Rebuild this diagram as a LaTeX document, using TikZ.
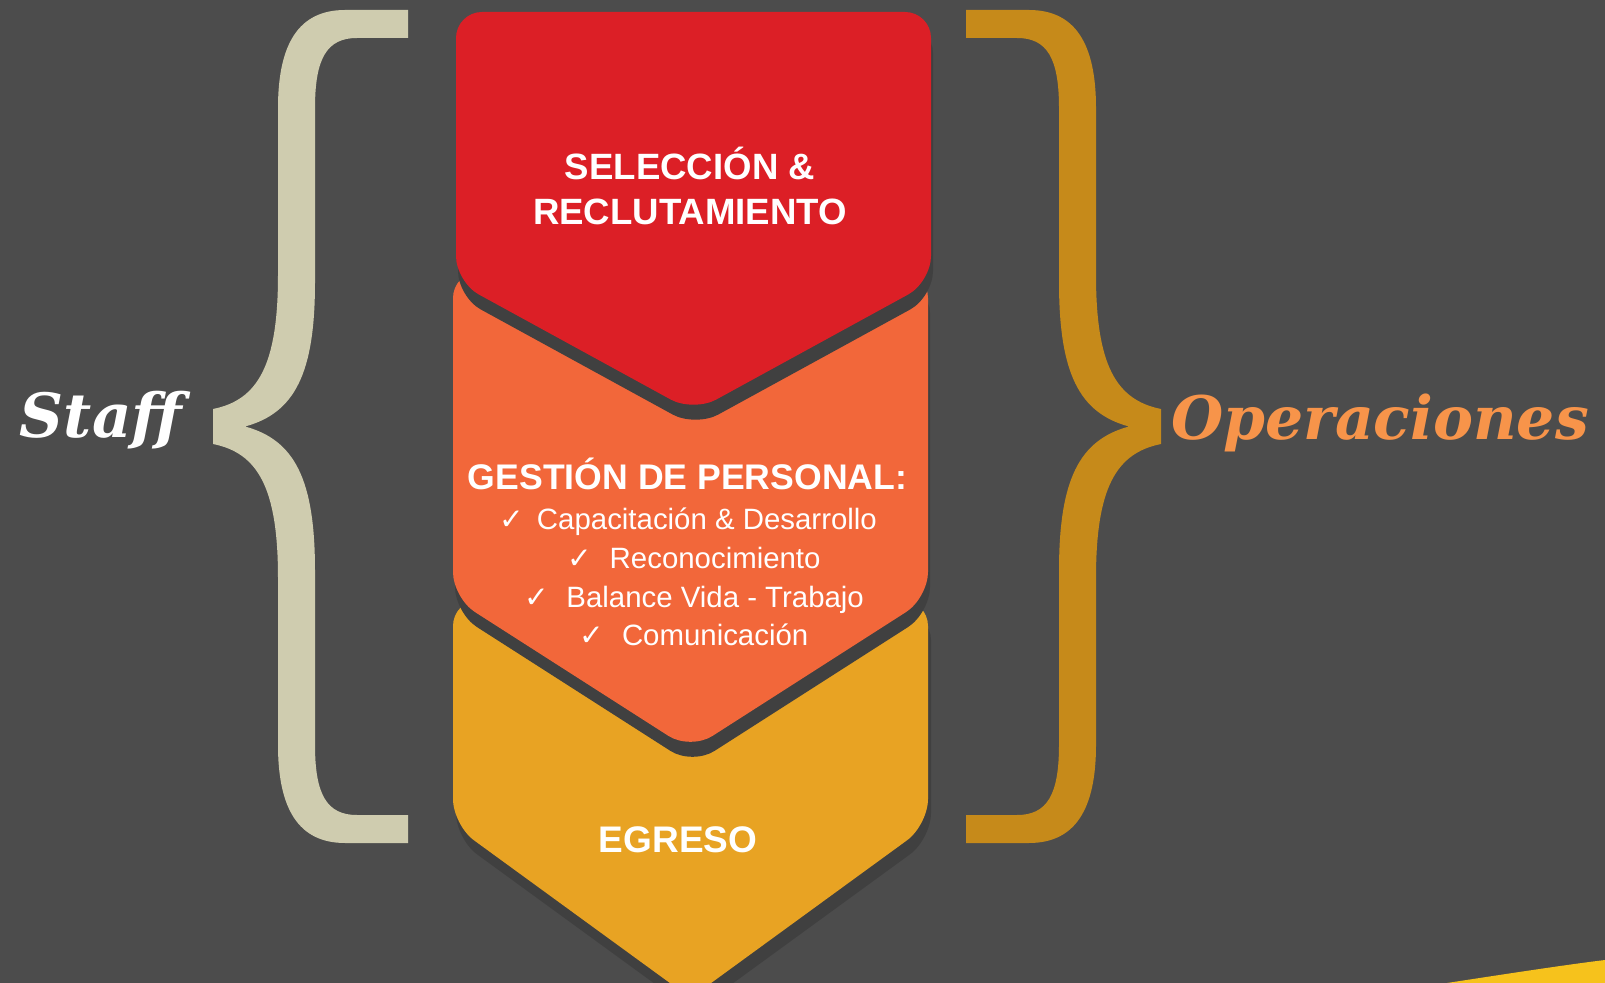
\documentclass[tikz,border=0pt]{standalone}
\usepackage{fontspec}
\setmainfont{Liberation Sans}
\newfontfamily\sidefont{DejaVu Serif}
\newfontfamily\tickfont{DejaVu Sans}
\usetikzlibrary{positioning}

\definecolor{backcol}{HTML}{4C4C4C}
\definecolor{shadowcol}{HTML}{404040}
\definecolor{stepred}{HTML}{DC1F26}
\definecolor{steporange}{HTML}{F2673A}
\definecolor{stepyellow}{HTML}{E8A323}
\definecolor{staffcol}{HTML}{CFCCAF}
\definecolor{operacol}{HTML}{C68A1A}
\definecolor{operatxt}{HTML}{F7944A}
\definecolor{swooshcol}{HTML}{F6C21C}

% one step of the chevron column: left, right, top, side bottom, tip
\newcommand{\chev}[5]{(#1/2+#2/2,#3) -- (#2,#3) -- (#2,#4) -- (#1/2+#2/2,#5)
  -- (#1,#4) -- (#1,#3) -- cycle}
% left curly brace, right one is its mirror
\newcommand{\bracepath}{(408,10) -- (345,10) .. controls (298,10) and (278,45) .. (278,108)
  -- (278,275) .. controls (278,365) and (258,400) .. (213,409)
  -- (213,444) .. controls (258,453) and (278,488) .. (278,578)
  -- (278,745) .. controls (278,808) and (298,843) .. (345,843)
  -- (408,843) -- (408,815) -- (357,815) .. controls (327,815) and (315,795) .. (315,745)
  -- (315,571) .. controls (315,480) and (295,440) .. (245,426.5)
  .. controls (295,413) and (315,373) .. (315,282)
  -- (315,108) .. controls (315,58) and (327,38) .. (357,38) -- (408,38) -- cycle}
\newcommand{\tick}{{\tickfont ✓}\hspace{0.6em}}

\begin{document}
\begin{tikzpicture}[x=0.5pt,y=-0.5pt,
    chev/.style={rounded corners=13pt},
    stepshadow/.style={fill=shadowcol,chev},
    titletxt/.style={text=white,anchor=base,font=\bfseries\fontsize{18.3}{22}\selectfont},
    listtxt/.style={text=white,anchor=base,font=\fontsize{14.7}{18}\selectfont},
    sidetxt/.style={anchor=base,font=\sidefont\bfseries\itshape\fontsize{30.5}{36}\selectfont}]
  % Background
  \fill[backcol] (0,0) rectangle (1605,983);
  \useasboundingbox (0,0) rectangle (1605,983);
  % Swoosh bottom right
  \fill[black!70] (1440,983) .. controls (1520,966) and (1570,958) .. (1605,953)
        -- (1605,983) -- cycle;
  \fill[swooshcol] (1447,983) .. controls (1525,971) and (1572,964) .. (1605,960)
        -- (1605,983) -- cycle;
  % Braces
  \fill[staffcol] \bracepath;
  \begin{scope}[shift={(1374,0)},xscale=-1]
    \fill[operacol] \bracepath;
  \end{scope}
  % Steps, bottom one first
  \fill[stepshadow,shift={(3,14)}] \chev{453}{928}{600}{825}{998};
  \fill[stepyellow,chev] \chev{453}{928}{600}{825}{998};
  \fill[stepshadow,shift={(2,15)}] \chev{453}{928}{272}{598}{750};
  \fill[steporange,chev] \chev{453}{928}{272}{598}{750};
  \fill[stepshadow,shift={(2,15)}] \chev{456}{931}{12}{282}{412};
  \fill[stepred,chev] \chev{456}{931}{12}{282}{412};
  % Labels in the steps
  \node[titletxt] (selec) at (690,180) {SELECCIÓN \&};
  \node[titletxt] (reclu) at (690,225) {RECLUTAMIENTO};
  \node[titletxt,font=\bfseries\fontsize{17.8}{21}\selectfont] (gestion) at (687.5,490)
        {GESTIÓN DE PERSONAL:};
  \node[listtxt] (capac) at (688,530) {{\tickfont ✓}\hspace{0.45em}Capacitación \& Desarrollo};
  \node[listtxt] (recon) at (694,568) {\tick Reconocimiento};
  \node[listtxt] (balan) at (694,607) {\tick Balance Vida - Trabajo};
  \node[listtxt] (comun) at (694,645) {\tick Comunicación};
  \node[titletxt,font=\bfseries\fontsize{18.5}{22}\selectfont] (egreso) at (678,852) {EGRESO};
  % Side labels
  \node[sidetxt,text=white] (staff) at (101,438) {Staff};
  \node[sidetxt,text=operatxt,font=\sidefont\bfseries\itshape\fontsize{30}{36}\selectfont]
        (opera) at (1380,440) {Operaciones};
\end{tikzpicture}
\end{document}
